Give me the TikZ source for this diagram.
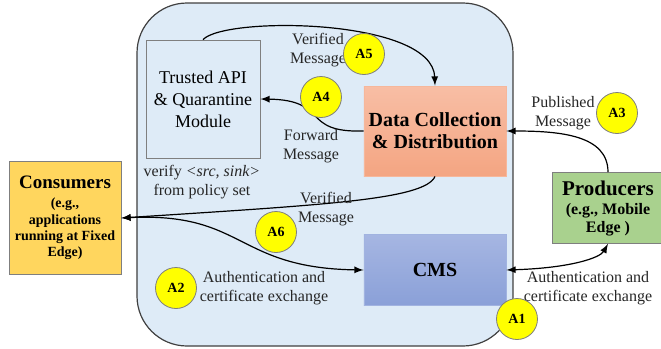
\documentclass[tikz,border=0pt]{standalone}
\usepackage{fontspec}
\setmainfont{Liberation Serif}
\definecolor{panel}{RGB}{222,235,247}
\definecolor{rimgray}{RGB}{64,64,64}
\definecolor{boxline}{RGB}{127,127,127}
\definecolor{salmontop}{RGB}{248,190,165}
\definecolor{salmonbot}{RGB}{244,165,130}
\definecolor{cmstop}{RGB}{166,182,226}
\definecolor{cmsbot}{RGB}{138,160,216}
\definecolor{consfill}{RGB}{255,214,94}
\definecolor{prodfill}{RGB}{169,209,142}
\definecolor{tagyellow}{RGB}{255,255,0}

\begin{document}
\begin{tikzpicture}[x=0.5pt,y=-0.5pt,>=latex,
        block/.style={draw=boxline,inner sep=0pt,align=center},
        tag/.style={circle,draw=boxline,fill=tagyellow,minimum size=20.5pt,inner sep=0pt,font=\fontsize{7}{8}\selectfont\bfseries},
        note/.style={align=center,font=\fontsize{8}{9.5}\selectfont,text=black!85},
        flow/.style={->,line width=0.6pt}]

        \useasboundingbox (0,0) rectangle (661,349);

        % the platform
        \draw[rimgray,fill=panel,rounded corners=25pt,line width=0.6pt] (137,3) rectangle (513,346);

        % boxes inside the platform
        \node[block,fill=panel,minimum width=57pt,minimum height=59pt,font=\fontsize{9}{11}\selectfont] (api) at (203,99) {Trusted API\\\& Quarantine\\Module};
        \node[note] (policy) at (202,182) {verify \textit{<src, sink>}\\from policy set};
        \node[block,draw=salmonbot!80,top color=salmontop,bottom color=salmonbot,minimum width=71pt,minimum height=45pt,font=\fontsize{10}{11}\selectfont\bfseries] (dc) at (435,131) {Data Collection\\\& Distribution};
        \node[block,draw=cmsbot!80,top color=cmstop,bottom color=cmsbot,minimum width=71pt,minimum height=35.5pt,font=\fontsize{10}{11}\selectfont\bfseries] (cms) at (435,270) {CMS};

        % consumers and producers
        \node[block,fill=consfill,minimum width=56pt,minimum height=56.5pt,font=\fontsize{7}{8.2}\selectfont\bfseries] (cons) at (65,218)
            {{\fontsize{9.5}{11}\selectfont Consumers}\\[1.3pt](e.g.,\\applications\\running at Fixed\\Edge)};
        \node[block,fill=prodfill,minimum width=56pt,minimum height=35.5pt,font=\fontsize{8}{9}\selectfont\bfseries] (prod) at (608,208)
            {{\fontsize{10.5}{12}\selectfont Producers}\\[0.5pt](e.g., Mobile\\Edge )};

        % message flows
        \draw[flow] (api.north) .. controls (225,16) and (433,18) .. (dc.north);
        \draw[flow] (dc.west) .. controls (300,133) and (330,100) .. (api.east);
        \draw[flow] (prod.north) .. controls (608,135) and (560,131) .. (dc.east);
        \draw[flow] (dc.south) .. controls (425,200) and (320,205) .. (cons.east);

        % certificate exchange
        \draw[<->,line width=0.6pt] (cons.east) .. controls (245,212) and (235,268) .. (cms.west);
        \draw[<->,line width=0.6pt] (cms.east) .. controls (570,268) and (600,258) .. (prod.south);

        % labels
        \node[note] (verified1) at (318,50) {Verified\\Message};
        \node[note] (forward) at (311,146) {Forward\\Message};
        \node[note] (published) at (563,113) {Published\\Message};
        \node[note] (verified2) at (326,209) {Verified\\Message};
        \node[note] (auth1) at (264,288) {Authentication and\\certificate exchange};
        \node[note] (auth2) at (588,288) {Authentication and\\certificate exchange};

        % steps
        \node[tag] (a1) at (517,319) {A1};
        \node[tag] (a2) at (176,288) {A2};
        \node[tag] (a3) at (617,113) {A3};
        \node[tag] (a4) at (321,97) {A4};
        \node[tag] (a5) at (364,54) {A5};
        \node[tag] (a6) at (276,232) {A6};
    \end{tikzpicture}
\end{document}
